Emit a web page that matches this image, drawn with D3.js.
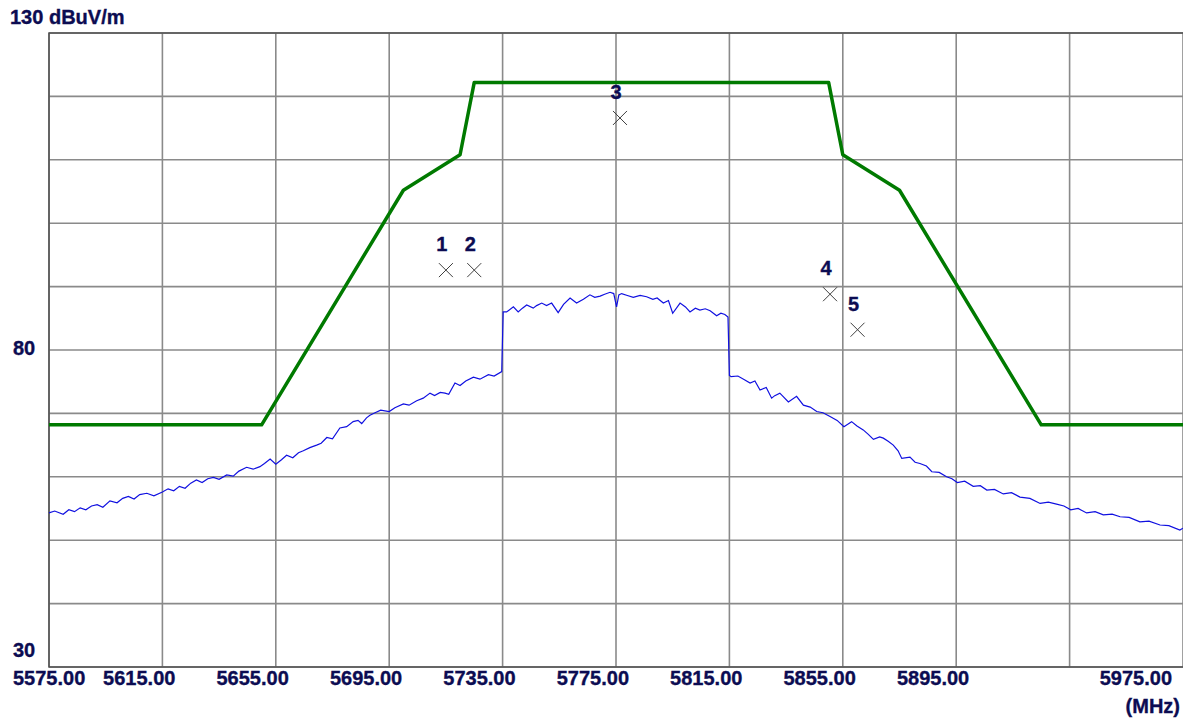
<!DOCTYPE html>
<html>
<head>
<meta charset="utf-8">
<script src="https://cdn.jsdelivr.net/npm/d3@7"></script>
<style>
  html, body { margin: 0; padding: 0; background: #fff; }
  svg { display: block; }
  text { font-family: "Liberation Sans", Arial, sans-serif; font-weight: bold; fill: #0c0c52; stroke: #0c0c52; stroke-width: 0.35px; }
</style>
</head>
<body>
<script>
const width = 1183;
const height = 718;

// axis ticks
const xTicks = [5575, 5615, 5655, 5695, 5735, 5775, 5815, 5855, 5895, 5975];
const xGrid = [5575, 5615, 5655, 5695, 5735, 5775, 5815, 5855, 5895, 5935, 5975];
const yGrid = [30, 40, 50, 60, 70, 80, 90, 100, 110, 120, 130];
const yLabels = [80, 30];

// limit mask (dBuV/m)
const maskMHz = [5575, 5650, 5700, 5720, 5725, 5850, 5855, 5875, 5925, 5975];
const maskDb  = [68.2, 68.2, 105.2, 110.8, 122.2, 122.2, 110.8, 105.2, 68.2, 68.2];

const traceMHz = [
  5575, 5577, 5580, 5582, 5584, 5586, 5588, 5590, 5592, 5594, 5596.5, 5599, 5601, 5603, 5605, 5607, 5609.5, 5612,
  5615, 5617, 5619, 5621, 5623, 5625, 5627, 5629, 5631, 5633, 5635, 5637.7, 5640, 5642, 5644.7, 5647, 5649.4, 5651,
  5653, 5655, 5657, 5658.8, 5661, 5663, 5664.7, 5667, 5669.4, 5671, 5673, 5675, 5677.6, 5680, 5682.3, 5684, 5685.3,
  5687, 5688.2, 5690, 5692, 5695, 5697, 5700, 5702, 5704.7, 5707, 5709.4, 5711, 5713, 5714.7, 5716, 5718.2, 5720,
  5722, 5724.7, 5727, 5730, 5732, 5734.7,
  5735.2, 5736.4, 5738.8, 5740.5, 5742, 5743.5, 5745.8, 5747, 5748.8, 5750.5, 5752.3, 5754.6, 5756.5, 5758.8, 5761.1,
  5763.5, 5765.8, 5767.5, 5769.4, 5771, 5772.9, 5774.2, 5775.2, 5776, 5777, 5779, 5781.1, 5783.5, 5785.8, 5788,
  5789.5, 5791.7, 5793.5, 5795, 5797.6, 5799.5, 5801.1, 5803, 5804.6, 5806.5, 5808.2, 5810.5, 5812, 5813.4, 5814.5,
  5815, 5815.6, 5818, 5820, 5822.3, 5824, 5825.8, 5828, 5829.9, 5831, 5832.8, 5835.8, 5838.7, 5841.1, 5843.5, 5845.8,
  5848, 5850.5, 5853, 5855.4, 5858.1, 5860, 5862.2, 5864, 5865.8, 5868, 5869.3, 5871, 5872.8, 5874.5, 5875.8, 5878.7,
  5880.5, 5882.2, 5884.5, 5886.4, 5889, 5891.6, 5893.5, 5895.4, 5898, 5901, 5903.5, 5905.8, 5908.5, 5911.6, 5914.5,
  5917.5, 5921, 5924.6, 5927.5, 5930.4, 5933, 5935.4, 5938, 5941, 5944, 5946.9, 5950, 5952.8, 5956, 5959.8, 5963,
  5966.9, 5970, 5973.9, 5975
];
const traceDb = [
  54.3, 54.6, 54.1, 54.8, 54.5, 55.1, 54.8, 55.4, 55.6, 55.2, 56.2, 55.9, 56.6, 56.9, 56.5, 57.2, 57.4, 57.0,
  57.6, 58.1, 57.8, 58.5, 58.2, 59.0, 59.5, 59.1, 59.7, 59.9, 59.6, 60.3, 60.1, 60.9, 61.5, 61.2, 61.6, 62.1,
  62.8, 62.0, 62.7, 63.4, 63.0, 63.8, 64.1, 64.6, 65.0, 65.3, 66.2, 66.0, 67.7, 67.9, 68.7, 68.9, 68.4,
  69.3, 69.7, 70.1, 70.5, 70.3, 70.9, 71.5, 71.3, 72.0, 72.4, 73.2, 72.8, 73.3, 73.2, 73.0, 74.8, 74.4,
  75.1, 75.7, 75.4, 76.1, 75.9, 76.6,
  86.0, 86.0, 86.8, 86.0, 86.6, 87.1, 86.6, 87.0, 87.4, 87.0, 87.4, 85.9, 87.2, 88.2, 87.4,
  88.0, 88.7, 88.3, 88.5, 88.8, 89.1, 88.9, 86.8, 88.7, 88.9, 88.6, 88.3, 88.6, 88.4, 88.0,
  88.2, 87.4, 87.8, 85.8, 87.4, 86.8, 86.0, 86.6, 86.3, 86.5, 86.2, 85.4, 85.8, 85.6, 85.2,
  76.0, 75.8, 75.9, 75.4, 74.8, 75.1, 73.7, 74.1, 72.4, 72.8, 73.2, 71.8, 72.7, 71.3, 71.0, 70.3,
  70.1, 69.5, 68.9, 67.9, 68.7, 68.0, 67.4, 66.7, 65.9, 66.3, 66.1, 65.6, 65.0, 64.1, 62.9, 63.1,
  62.3, 62.1, 61.7, 60.8, 60.7, 60.0, 59.7, 59.1, 59.3, 58.5, 58.6, 57.9, 58.0, 57.3, 57.5,
  56.8, 56.6, 55.8, 56.0, 55.7, 55.4, 54.8, 55.0, 54.3, 54.5, 54.0, 54.1, 53.7, 53.6, 52.9, 53.0,
  52.4, 52.3, 51.6, 51.9
];

// markers
const markerIds = ["1", "2", "3", "4", "5"];
const markerMHz = [5715, 5725, 5776.4, 5850.5, 5860.2];
const markerDb  = [92.6, 92.6, 116.6, 88.8, 83.2];

const x = d3.scaleLinear().domain([5575, 5975]).range([49, 1183]);
const y = d3.scaleLinear().domain([30, 130]).range([667, 33]);

const svg = d3.select(document.body).append("svg")
    .attr("width", width)
    .attr("height", height);

svg.append("rect").attr("width", width).attr("height", height).attr("fill", "#fff");

// grid
const grid = svg.append("g").attr("stroke", "#8a8a8a").attr("stroke-width", 1.6);
grid.selectAll("line.v")
  .data(xGrid)
  .join("line")
    .attr("class", "v")
    .attr("x1", d => x(d)).attr("x2", d => x(d))
    .attr("y1", y(130)).attr("y2", y(30));
grid.selectAll("line.h")
  .data(yGrid)
  .join("line")
    .attr("class", "h")
    .attr("x1", x(5575)).attr("x2", x(5975))
    .attr("y1", d => y(d)).attr("y2", d => y(d));

// frame
const frame = svg.append("g").attr("stroke", "#505050").attr("stroke-width", 1.5).attr("fill", "none");
frame.append("path")
  .attr("d", `M${x(5975)},${y(130)}H${x(5575)}V${y(30)}H${x(5975)}`);

// mask line
const mask = maskMHz.map((f, i) => [f, maskDb[i]]);
svg.append("path")
  .datum(mask)
  .attr("fill", "none")
  .attr("stroke", "#007a00")
  .attr("stroke-width", 3.5)
  .attr("stroke-linejoin", "round")
  .attr("d", d3.line().x(d => x(d[0])).y(d => y(d[1])));

// trace
const trace = traceMHz.map((f, i) => [f, traceDb[i]]);
svg.append("path")
  .datum(trace)
  .attr("fill", "none")
  .attr("stroke", "#1010e0")
  .attr("stroke-width", 1.2)
  .attr("d", d3.line().x(d => x(d[0])).y(d => y(d[1])));

// markers
const markers = markerIds.map((id, i) => ({ id, f: markerMHz[i], db: markerDb[i] }));
const mk = svg.append("g").selectAll("g")
  .data(markers)
  .join("g")
    .attr("transform", d => `translate(${x(d.f)},${y(d.db)})`);
mk.append("path")
  .attr("d", "M-7,-7L7,7M-7,7L7,-7")
  .attr("stroke", "#404040")
  .attr("stroke-width", 1);
mk.append("text")
  .attr("x", -4).attr("y", -19)
  .attr("text-anchor", "middle")
  .attr("font-size", 20)
  .text(d => d.id);

// x tick labels
svg.append("g").selectAll("text")
  .data(xTicks)
  .join("text")
    .attr("font-size", 20)
    .attr("y", 685)
    .attr("x", (d, i) => i === 0 ? 13 : i === xTicks.length - 1 ? 1172 : x(d) + 13)
    .attr("text-anchor", (d, i) => i === 0 ? "start" : "end")
    .text(d => d3.format(".2f")(d));

svg.append("text")
  .attr("font-size", 20)
  .attr("x", 1180).attr("y", 713)
  .attr("text-anchor", "end")
  .text("(MHz)");

// y labels
svg.append("text")
  .attr("font-size", 20)
  .attr("x", 10).attr("y", 24)
  .text("130 dBuV/m");
svg.append("g").selectAll("text")
  .data(yLabels)
  .join("text")
    .attr("font-size", 20)
    .attr("x", 13)
    .attr("y", d => d === 30 ? y(d) - 10 : y(d) + 5)
    .text(d => d);
</script>
</body>
</html>
